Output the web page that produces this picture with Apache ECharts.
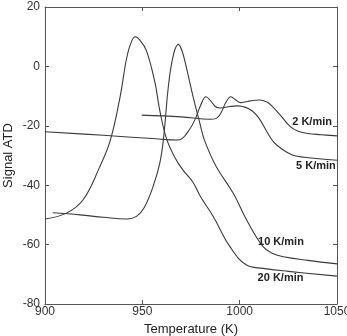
<!DOCTYPE html>
<html>
<head>
<meta charset="utf-8">
<script src="https://cdn.jsdelivr.net/npm/echarts@6/dist/echarts.min.js"></script>
<style>
  html, body { margin: 0; padding: 0; background: #fff; }
  #chart { width: 347px; height: 336px; }
</style>
</head>
<body>
<div id="chart"></div>
<script>
// temperature (K) and signal values, one pair per heating rate
const rate2T = [949.7, 970, 985, 988, 990.5, 993, 995.5, 998, 1000.5, 1004, 1010, 1014, 1017, 1021, 1026, 1030, 1035, 1042, 1050];
const rate2V = [-16.4, -17, -17.8, -17.5, -15.5, -12, -10.2, -11.3, -12.2, -11.8, -11.3, -12, -13.6, -16.5, -20.3, -21.8, -22.6, -23, -23.4];

const rate5T = [900, 930, 955, 968.3, 971, 974, 977, 980, 982.7, 985, 987.5, 990, 995, 999, 1003, 1006.5, 1010, 1014, 1017.5, 1022, 1027, 1033, 1050];
const rate5V = [-22, -23.2, -24.3, -24.8, -24, -21.5, -18, -13, -10.2, -11.5, -13.5, -14, -13.5, -13.3, -13.8, -15, -17.5, -22, -25.5, -28, -29.8, -30.6, -31.6];

const rate10T = [904, 918, 930, 942, 947, 951, 955.5, 959, 961, 963.5, 966, 968.5, 970.5, 972.5, 976, 979.5, 982, 988, 996.7, 1003.6, 1012, 1017, 1022.5, 1035, 1050];
const rate10V = [-49.3, -50, -50.8, -51.4, -50.5, -47.5, -40.5, -32.5, -23.5, -6, 4, 7.4, 5, 0, -10, -19, -25, -33.8, -42.7, -51.7, -60.7, -63, -64.1, -65.3, -66.5];

const rate20T = [900, 911, 919.5, 928, 933.5, 938.5, 942, 944.5, 946.5, 948.5, 952, 956.5, 959, 962.5, 967, 971, 976, 980, 986.5, 995, 1003.5, 1012, 1025, 1050];
const rate20V = [-51.4, -49.4, -45, -34, -25, -10.5, 3, 8.5, 10, 9, 5.5, -5.5, -15, -24.5, -31, -35, -39, -44, -50.6, -60.7, -66.9, -68, -69, -70.6];

const rateNames = ["2 K/min", "5 K/min", "10 K/min", "20 K/min"];
// where each rate's label sits (data coords)
const labelT = [1037.2, 1039.2, 1021.2, 1021];
const labelV = [-18.6, -33.5, -59.2, -71.1];

const xTicks = [900, 950, 1000, 1050];
const yTicks = [-80, -60, -40, -20, 0, 20];

const zip = (t, v) => t.map((x, i) => [x, v[i]]);
const allT = [rate2T, rate5T, rate10T, rate20T];
const allV = [rate2V, rate5V, rate10V, rate20V];

const font = "Liberation Sans, Arial, sans-serif";
const lineColor = "#3a3a3a";
const frameColor = "#555";

const chart = echarts.init(document.getElementById("chart"));

const baseX = {
  type: "value",
  min: xTicks[0],
  max: xTicks[xTicks.length - 1],
  interval: 50,
  axisLine: { show: true, onZero: false, lineStyle: { color: frameColor, width: 1 } },
  axisTick: { show: true, inside: true, length: 4, lineStyle: { color: frameColor } },
  splitLine: { show: false },
};
const baseY = {
  type: "value",
  min: yTicks[0],
  max: yTicks[yTicks.length - 1],
  interval: 20,
  axisLine: { show: true, onZero: false, lineStyle: { color: frameColor, width: 1 } },
  axisTick: { show: true, inside: true, length: 4, lineStyle: { color: frameColor } },
  splitLine: { show: false },
};

const option = {
  backgroundColor: "#fff",
  animation: false,
  grid: { left: 45, top: 7, right: 10, bottom: 32, containLabel: false, outerBoundsMode: "none" },
  xAxis: [
    {
      ...baseX,
      position: "bottom",
      name: "Temperature (K)",
      nameLocation: "middle",
      nameGap: 17,
      nameTextStyle: { fontFamily: font, fontSize: 13, color: "#222" },
      axisLabel: { fontFamily: font, fontSize: 12, color: "#333", margin: 2, formatter: (v) => String(v) },
    },
    { ...baseX, position: "top", axisLabel: { show: false } },
  ],
  yAxis: [
    {
      ...baseY,
      position: "left",
      name: "Signal ATD",
      nameLocation: "middle",
      nameGap: 30,
      nameMoveOverlap: false,
      nameTextStyle: { fontFamily: font, fontSize: 13, color: "#222" },
      axisLabel: { fontFamily: font, fontSize: 12, color: "#333", margin: 5 },
    },
    { ...baseY, position: "right", axisLabel: { show: false } },
  ],
  series: rateNames.map((name, i) => ({
    name: name,
    type: "line",
    xAxisIndex: 0,
    yAxisIndex: 0,
    data: zip(allT[i], allV[i]),
    smooth: 0.4,
    showSymbol: false,
    lineStyle: { color: lineColor, width: 1.1 },
    markPoint: {
      symbol: "circle",
      symbolSize: 0,
      data: [{ coord: [labelT[i], labelV[i]] }],
      label: {
        show: true,
        position: "inside",
        formatter: name,
        fontFamily: font,
        fontSize: 11,
        fontWeight: "bold",
        color: "#222",
      },
    },
  })),
};

chart.setOption(option);
</script>
</body>
</html>
